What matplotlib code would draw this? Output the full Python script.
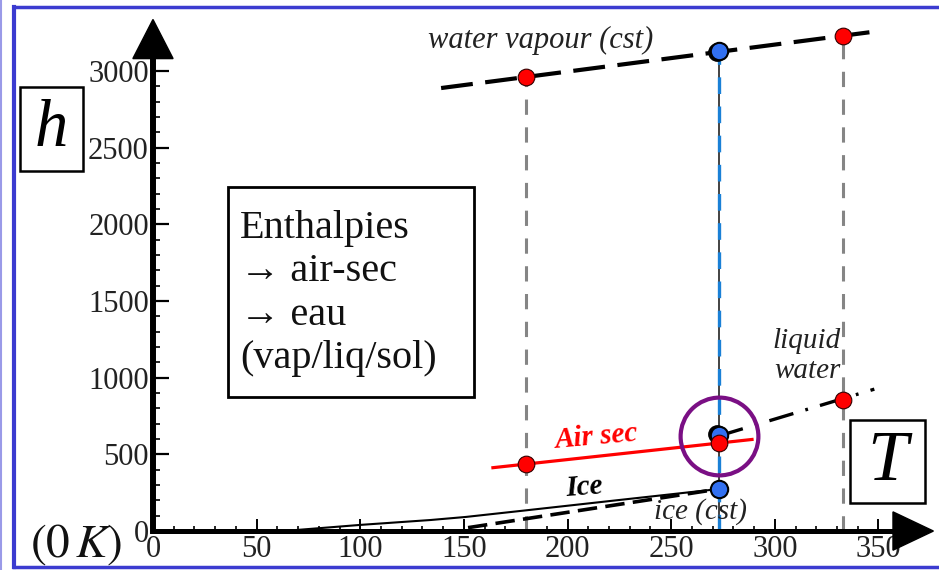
import matplotlib.pyplot as plt
from matplotlib.lines import Line2D
from matplotlib.patches import Rectangle, Polygon
from matplotlib.ticker import FixedLocator

plt.rcParams['font.family'] = ['Liberation Serif', 'DejaVu Serif']
plt.rcParams['mathtext.fontset'] = 'stix'
plt.rcParams['lines.scale_dashes'] = False

# enthalpy (kJ/kg) vs temperature (K)
T_vap = [139, 347]
h_vap = [2888, 3254]
T_liq = [273, 348]
h_liq = [620, 925]
T_air = [164, 289]
h_air = [413, 597]
T_ice = [63, 100, 134, 151, 180, 220, 273]
h_ice = [0, 40, 72, 92, 135, 195, 274]
T_ice_cst = [152, 273]
h_ice_cst = [22, 274]

# marked states
T_red = [180, 333, 180, 273, 333]
h_red = [2960, 3227, 437, 574, 855]
T_blue = [273, 273, 273]
h_blue = [3130, 626, 274]
T_black = [272, 272]
h_black = [3122, 630]
T_guides = [180, 333]
h_guides = [2960, 3227]
T_fus = 273
h_fus_top = 3130
T_focus, h_focus = 273, 620

x_major = list(range(0, 351, 50))
x_minor = [t for t in range(0, 371, 10) if t % 50]
y_major = list(range(0, 3001, 500))
y_minor = [h for h in range(0, 3101, 100) if h % 500]

fig = plt.figure(figsize=(9.39, 5.70), dpi=100)
ax = fig.add_axes([0, 0, 1, 1])
ax.set_xlim(-73.8, 379.2)
ax.set_ylim(-254, 3462)
ax.patch.set_alpha(0)

# axes through the origin
for s in ['top', 'right']:
    ax.spines[s].set_visible(False)
ax.spines['left'].set_position(('data', 0))
ax.spines['bottom'].set_position(('data', 0))
ax.spines['left'].set_bounds(0, 3150)
ax.spines['bottom'].set_bounds(0, 362)
ax.spines['left'].set_linewidth(4.3)
ax.spines['bottom'].set_linewidth(3.6)
ax.spines['left'].set_capstyle('projecting')

ax.set_xticks(x_major)
ax.set_yticks(y_major)
ax.xaxis.set_minor_locator(FixedLocator(x_minor))
ax.yaxis.set_minor_locator(FixedLocator(y_minor))
ax.tick_params(axis='both', which='both', direction='in', labelsize=22, colors='black')
ax.tick_params(axis='y', which='major', length=11.5, width=1.6, pad=3)
ax.tick_params(axis='y', which='minor', length=5, width=1.2)
ax.tick_params(axis='x', which='major', length=8.5, width=1.4, pad=3)
ax.tick_params(axis='x', which='minor', length=3.6, width=1.2)
for lab in ax.get_xticklabels() + ax.get_yticklabels():
    lab.set_color('#222222')

# arrow heads
ax.add_patch(Polygon([(0, 3335), (-9.7, 3080), (9.7, 3080)], closed=True,
                     facecolor='black', edgecolor='black', zorder=5, clip_on=False))
ax.add_patch(Polygon([(376.5, 0), (357, 125), (357, -125)], closed=True,
                     facecolor='black', edgecolor='black', zorder=5, clip_on=False))

# guides
for t, h in zip(T_guides, h_guides):
    ax.plot([t, t], [0, h], color='#858585', lw=2.2, ls=(0, (11, 9)), zorder=2)
ax.plot([T_fus, T_fus], [0, h_fus_top], color='#222222', lw=1.2, zorder=2)
ax.plot([T_fus, T_fus], [0, h_fus_top], color='#1a80d6', lw=2.4, ls=(0, (12, 9)), zorder=2)

# phase curves
ax.plot(T_vap, h_vap, color='black', lw=3.0, ls=(0, (23, 9)), zorder=3)
ax.plot(T_liq, h_liq, color='black', lw=2.4, ls=(0, (18, 9, 2, 9)), zorder=3)
ax.plot(T_air, h_air, color='#ff0000', lw=2.3, zorder=3)
ax.plot(T_ice, h_ice, color='black', lw=1.5, zorder=3)
ax.plot(T_ice_cst, h_ice_cst, color='black', lw=2.6, ls=(0, (14, 6)), zorder=3)

ax.plot(T_black, h_black, 'o', color='black', ms=12.5, zorder=4, ls='none')
ax.plot(T_blue, h_blue, 'o', color='#3270f0', mec='black', mew=1.5, ms=12.5, zorder=5, ls='none')
ax.plot(T_red, h_red, 'o', color='#ff0000', mec='#330000', mew=0.8, ms=12, zorder=6, ls='none')

ax.plot([T_focus], [h_focus], 'o', mfc='none', mec='#7a0f84', mew=3.0, ms=56, zorder=7)

# annotations
ax.text(187, 3200, 'water vapour (cst)', fontsize=22, fontstyle='italic', color='#222222',
        ha='center', va='center')
ax.text(332, 1140, 'liquid\nwater', fontsize=21, fontstyle='italic', color='#222222',
        ha='right', va='center', linespacing=1.2)
ax.text(214, 613, 'Air sec', fontsize=21, fontstyle='italic', fontweight='bold', color='#ff0000',
        ha='center', va='center', rotation=5)
ax.text(208, 287, 'Ice', fontsize=21, fontstyle='italic', fontweight='bold', color='black',
        ha='center', va='center', rotation=4)
ax.text(264, 124, 'ice (cst)', fontsize=21, fontstyle='italic', color='#222222',
        ha='center', va='center')
ax.text(-37, -91, r'$(0\,K)$', fontsize=34, ha='center', va='center', color='#111111')

ax.add_patch(Rectangle((36.2, 874), 118.8, 1369, fill=False, lw=2.0, edgecolor='black',
                       zorder=4))
ax.text(42, 1549, 'Enthalpies\n\u2192 air-sec\n\u2192 eau\n(vap/liq/sol)', fontsize=29,
        ha='left', va='center', linespacing=1.22, color='#111111')

ax.add_patch(Rectangle((-64.3, 2347), 30.5, 548, fill=False, lw=1.8, edgecolor='black',
                       clip_on=False))
ax.text(-49, 2621, 'h', fontsize=48, fontstyle='italic', ha='center', va='center')
ax.add_patch(Rectangle((336.2, 183), 36.2, 541, fill=False, lw=1.8, edgecolor='black',
                       zorder=4))
ax.text(354.3, 450, 'T', fontsize=52, fontstyle='italic', ha='center', va='center')

# slide frame
frame = '#3b3bd0'
fig.add_artist(Line2D([0.0144, 0.0144], [0.005, 0.988], color=frame, lw=3.0))
fig.add_artist(Line2D([0.0144, 1.0], [0.988, 0.988], color=frame, lw=2.5))
fig.add_artist(Line2D([0.0144, 1.0], [0.005, 0.005], color=frame, lw=2.5))
fig.add_artist(Line2D([0.001, 0.001], [0.0, 1.0], color='#9a9ae8', lw=1.5))

fig.savefig('out.png', dpi=100)
